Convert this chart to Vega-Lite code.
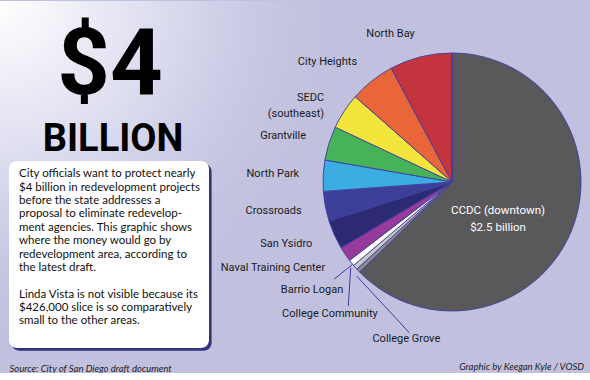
{
  "$schema": "https://vega.github.io/schema/vega-lite/v6.json",
  "background": "#c1c1df",
  "padding": {"left": 0, "top": 0, "right": 0, "bottom": 0},
  "bounds": "flush",
  "config": {"view": {"stroke": null}, "font": "Roboto"},
  "datasets": {
    "areas": [
      {"area": "CCDC (downtown)", "value": 2500, "order": 1},
      {"area": "College Grove", "value": 21, "order": 2},
      {"area": "College Community", "value": 24, "order": 3},
      {"area": "Barrio Logan", "value": 32, "order": 4},
      {"area": "Naval Training Center", "value": 75, "order": 5},
      {"area": "San Ysidro", "value": 145, "order": 6},
      {"area": "Crossroads", "value": 148, "order": 7},
      {"area": "North Park", "value": 155, "order": 8},
      {"area": "Grantville", "value": 170, "order": 9},
      {"area": "SEDC (southeast)", "value": 180, "order": 10},
      {"area": "City Heights", "value": 227, "order": 11},
      {"area": "North Bay", "value": 311, "order": 12},
      {"area": "Linda Vista", "value": 0.426, "order": 13}
    ],
    "blurb": [
      {"line": 1, "text": "City officials want to protect nearly"},
      {"line": 2, "text": "$4 billion in redevelopment projects"},
      {"line": 3, "text": "before the state addresses a"},
      {"line": 4, "text": "proposal to eliminate redevelop-"},
      {"line": 5, "text": "ment agencies. This graphic shows"},
      {"line": 6, "text": "where the money would go by"},
      {"line": 7, "text": "redevelopment area, according to"},
      {"line": 8, "text": "the latest draft."},
      {"line": 10, "text": "Linda Vista is not visible because its"},
      {"line": 11, "text": "$426,000 slice is so comparatively"},
      {"line": 12, "text": "small to the other areas."}
    ]
  },
  "spacing": 2,
  "hconcat": [
    {
      "width": 200,
      "height": 187,
      "layer": [
        {
          "data": {"values": [{}]},
          "mark": {
            "type": "rect",
            "color": {
              "gradient": "radial",
              "x1": 0, "y1": 0, "r1": 0,
              "x2": 0, "y2": 0, "r2": 1,
              "stops": [
                {"offset": 0, "color": "#ffffff"},
                {"offset": 0.5, "color": "#d8d8ee"},
                {"offset": 1, "color": "rgba(193,193,223,0)"}
              ]
            }
          },
          "encoding": {
            "x": {"datum": -0.045, "type": "quantitative", "scale": {"domain": [0, 1], "nice": false, "zero": false},
              "axis": {"domain": false, "ticks": false, "labels": false, "grid": false, "zindex": 1,
                "title": "Source: City of San Diego draft document", "titleAnchor": "start",
                "titleFont": "Lato", "titleFontStyle": "italic", "titleFontWeight": "normal",
                "titleFontSize": 9.5, "titleColor": "#222222", "titlePadding": 15}},
            "x2": {"datum": 1.755},
            "y": {"datum": -11.979, "type": "quantitative", "scale": {"domain": [0, 14], "reverse": true, "nice": false, "zero": false}, "axis": null},
            "y2": {"datum": 14.97}
          }
        },
        {
          "data": {"values": [{}]},
          "mark": {"type": "text", "text": "$4", "align": "center", "baseline": "alphabetic", "font": "Roboto", "fontSize": 92, "fontWeight": "bold", "color": "#000000"},
          "encoding": {
            "x": {"datum": 0.505, "type": "quantitative"},
            "y": {"datum": -5.016, "type": "quantitative", "axis": null}
          }
        },
        {
          "data": {"values": [{}]},
          "mark": {"type": "text", "text": "BILLION", "align": "center", "baseline": "alphabetic", "font": "Roboto", "fontSize": 38, "fontWeight": "bold", "color": "#000000"},
          "encoding": {
            "x": {"datum": 0.52, "type": "quantitative"},
            "y": {"datum": -0.749, "type": "quantitative", "axis": null}
          }
        },
        {
          "data": {"values": [{}]},
          "mark": {"type": "rect", "fill": "#33337d", "cornerRadius": 8},
          "encoding": {
            "x": {"datum": 0.013, "type": "quantitative"},
            "x2": {"datum": 1.013},
            "y": {"datum": 0.2, "type": "quantitative", "axis": null},
            "y2": {"datum": 14.2}
          }
        },
        {
          "data": {"values": [{}]},
          "mark": {"type": "rect", "fill": "#ffffff", "cornerRadius": 8},
          "encoding": {
            "x": {"datum": 0, "type": "quantitative"},
            "x2": {"datum": 1},
            "y": {"datum": 0, "type": "quantitative", "axis": null},
            "y2": {"datum": 14}
          }
        },
        {
          "data": {"name": "blurb"},
          "mark": {"type": "text", "align": "left", "baseline": "middle", "font": "Lato", "fontSize": 11.5, "color": "#111111"},
          "encoding": {
            "x": {"datum": 0.05, "type": "quantitative"},
            "y": {"field": "line", "type": "quantitative", "axis": null},
            "text": {"field": "text", "type": "nominal"}
          }
        }
      ]
    },
    {
      "width": 373,
      "height": 187,
      "data": {"name": "areas"},
      "title": {
        "text": "Graphic by Keegan Kyle / VOSD",
        "orient": "bottom",
        "anchor": "end",
        "frame": "group",
        "font": "Lato",
        "fontStyle": "italic",
        "fontWeight": "normal",
        "fontSize": 9.5,
        "color": "#222222",
        "offset": 14
      },
      "layer": [
        {
          "mark": {"type": "arc", "outerRadius": 129, "stroke": "#3d3d9e", "strokeWidth": 0.9},
          "encoding": {
            "x": {"datum": 0, "type": "quantitative", "scale": {"domain": [-1.86822, 1.02326], "nice": false, "zero": false}, "axis": null},
            "y": {"datum": 0, "type": "quantitative", "scale": {"domain": [-1.28682, 0.16279], "nice": false, "zero": false}, "axis": null},
            "theta": {"field": "value", "type": "quantitative", "stack": true},
            "order": {"field": "order", "type": "quantitative"},
            "color": {
              "field": "area", "type": "nominal", "legend": null,
              "scale": {
                "domain": ["CCDC (downtown)", "College Grove", "College Community", "Barrio Logan", "Naval Training Center", "San Ysidro", "Crossroads", "North Park", "Grantville", "SEDC (southeast)", "City Heights", "North Bay", "Linda Vista"],
                "range": ["#59595b", "#8b8b8b", "#c9c9c9", "#ffffff", "#983a9b", "#2c2a72", "#3e3f99", "#3badE3", "#46b35b", "#f4e53c", "#e9653a", "#c3343f", "#888888"]
              }
            }
          }
        },
        {
          "mark": {"type": "text", "radius": 153, "align": "right", "baseline": "middle", "fontSize": 11, "lineHeight": 16, "color": "#1a1a1a"},
          "encoding": {
            "x": {"datum": 0, "type": "quantitative", "axis": null},
            "y": {"datum": 0, "type": "quantitative", "axis": null},
            "theta": {"field": "value", "type": "quantitative", "stack": true},
            "order": {"field": "order", "type": "quantitative"},
            "text": {
              "field": "area", "type": "nominal",
              "condition": [
                {"test": "datum.area === 'SEDC (southeast)'", "value": ["SEDC", "(southeast)"]},
                {"test": "indexof(['CCDC (downtown)','College Grove','College Community','Barrio Logan','Linda Vista'], datum.area) >= 0", "value": ""}
              ]
            }
          }
        },
        {
          "data": {"values": [{}]},
          "mark": {"type": "rule", "stroke": "#3d3d9e", "strokeWidth": 1},
          "encoding": {
            "x": {"datum": -0.770, "type": "quantitative", "axis": null},
            "y": {"datum": -0.638, "type": "quantitative", "axis": null},
            "x2": {"datum": -0.915},
            "y2": {"datum": -0.754}
          }
        },
        {
          "data": {"values": [{}]},
          "mark": {"type": "rule", "stroke": "#3d3d9e", "strokeWidth": 1},
          "encoding": {
            "x": {"datum": -0.785, "type": "quantitative", "axis": null},
            "y": {"datum": -0.664, "type": "quantitative", "axis": null},
            "x2": {"datum": -0.804},
            "y2": {"datum": -0.961}
          }
        },
        {
          "data": {"values": [{}]},
          "mark": {"type": "rule", "stroke": "#3d3d9e", "strokeWidth": 1},
          "encoding": {
            "x": {"datum": -0.739, "type": "quantitative", "axis": null},
            "y": {"datum": -0.729, "type": "quantitative", "axis": null},
            "x2": {"datum": -0.331},
            "y2": {"datum": -1.168}
          }
        },
        {
          "data": {"values": [{"label": "Barrio Logan"}]},
          "mark": {"type": "text", "align": "center", "baseline": "middle", "fontSize": 11, "color": "#1a1a1a"},
          "encoding": {
            "x": {"datum": -1.085, "type": "quantitative", "axis": null},
            "y": {"datum": -0.835, "type": "quantitative", "axis": null},
            "text": {"field": "label", "type": "nominal"}
          }
        },
        {
          "data": {"values": [{"label": "College Community"}]},
          "mark": {"type": "text", "align": "center", "baseline": "middle", "fontSize": 11, "color": "#1a1a1a"},
          "encoding": {
            "x": {"datum": -0.946, "type": "quantitative", "axis": null},
            "y": {"datum": -1.026, "type": "quantitative", "axis": null},
            "text": {"field": "label", "type": "nominal"}
          }
        },
        {
          "data": {"values": [{"label": "College Grove"}]},
          "mark": {"type": "text", "align": "center", "baseline": "middle", "fontSize": 11, "color": "#1a1a1a"},
          "encoding": {
            "x": {"datum": -0.354, "type": "quantitative", "axis": null},
            "y": {"datum": -1.219, "type": "quantitative", "axis": null},
            "text": {"field": "label", "type": "nominal"}
          }
        },
        {
          "data": {"values": [{"label": ["CCDC (downtown)", "$2.5 billion"]}]},
          "mark": {"type": "text", "align": "center", "baseline": "middle", "fontSize": 11.5, "lineHeight": 17, "color": "#ffffff"},
          "encoding": {
            "x": {"datum": 0.357, "type": "quantitative", "axis": null},
            "y": {"datum": -0.225, "type": "quantitative", "axis": null},
            "text": {"field": "label", "type": "nominal"}
          }
        }
      ]
    }
  ]
}
